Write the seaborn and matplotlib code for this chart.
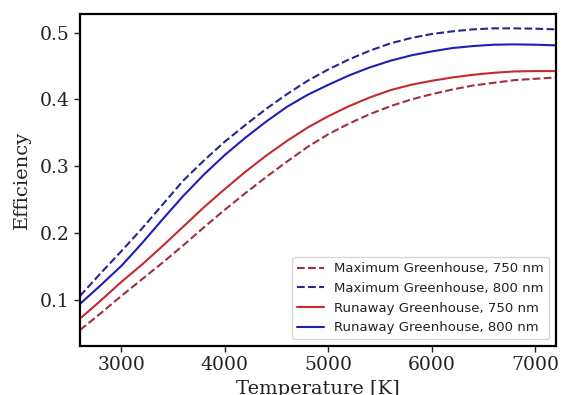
import numpy as np
import pandas as pd
import matplotlib
matplotlib.use("Agg")
import matplotlib.pyplot as plt
import seaborn as sns

temperature = [2600, 2800, 3000, 3200, 3400, 3600, 3800, 4000, 4200, 4400, 4600, 4800,
               5000, 5200, 5400, 5600, 5800, 6000, 6200, 6400, 6600, 6800, 7000, 7200]

max_gh_750 = [0.055, 0.080, 0.106, 0.131, 0.156, 0.182, 0.209, 0.235, 0.260, 0.284, 0.307, 0.329,
              0.348, 0.364, 0.378, 0.390, 0.400, 0.408, 0.415, 0.421, 0.425, 0.429, 0.431, 0.433]
max_gh_800 = [0.106, 0.140, 0.173, 0.207, 0.243, 0.279, 0.309, 0.337, 0.362, 0.386, 0.408, 0.428,
              0.445, 0.460, 0.473, 0.484, 0.492, 0.498, 0.502, 0.505, 0.5065, 0.5065, 0.506, 0.505]
run_gh_750 = [0.072, 0.099, 0.127, 0.153, 0.181, 0.210, 0.239, 0.266, 0.292, 0.316, 0.338, 0.358,
              0.375, 0.390, 0.403, 0.414, 0.422, 0.428, 0.433, 0.437, 0.440, 0.442, 0.4425, 0.4425]
run_gh_800 = [0.094, 0.122, 0.151, 0.185, 0.221, 0.256, 0.288, 0.317, 0.343, 0.367, 0.389, 0.407,
              0.422, 0.436, 0.448, 0.458, 0.466, 0.472, 0.477, 0.480, 0.482, 0.4825, 0.482, 0.481]

series_labels = ["Maximum Greenhouse, 750 nm", "Maximum Greenhouse, 800 nm",
                 "Runaway Greenhouse, 750 nm", "Runaway Greenhouse, 800 nm"]
series_values = [max_gh_750, max_gh_800, run_gh_750, run_gh_800]
series_colors = ["#a03040", "#26268f", "#c42a2e", "#1e1eb8"]
series_styles = ["--", "--", "-", "-"]

x_ticks = [3000, 4000, 5000, 6000, 7000]
y_ticks = [0.1, 0.2, 0.3, 0.4, 0.5]

sns.set_style("ticks")
plt.rcParams["font.family"] = ["DejaVu Serif"]

fig = plt.figure(figsize=(5.69, 3.95), dpi=100)
ax = fig.add_axes([0.1406, 0.124, 0.8364, 0.8406])

for label, vals, col, ls in zip(series_labels, series_values, series_colors, series_styles):
    df = pd.DataFrame({"Temperature": temperature, "Efficiency": vals})
    sns.lineplot(data=df, x="Temperature", y="Efficiency", ax=ax, color=col,
                 linestyle=ls, linewidth=1.5, label=label)

ax.set_xlim(2600, 7200)
ax.set_ylim(0.031, 0.528)
ax.set_xticks(x_ticks)
ax.set_yticks(y_ticks)
ax.set_xticklabels([str(t) for t in x_ticks])
ax.set_yticklabels([f"{v:.1f}" for v in y_ticks])
ax.tick_params(labelsize=13.5, length=4, width=1, colors="#222222", labelcolor="#222222")
ax.set_xlabel("Temperature [K]", fontsize=14, color="#222222", labelpad=4)
ax.set_ylabel("Efficiency", fontsize=14, color="#222222", labelpad=6)
for sp in ax.spines.values():
    sp.set_visible(True)
    sp.set_color("black")
    sp.set_linewidth(1.6)

leg = ax.legend(loc="lower right", prop={"family": "DejaVu Sans", "size": 9.5},
                frameon=True, fancybox=True, framealpha=0.8, borderaxespad=0.5)
leg.get_frame().set_edgecolor("#cccccc")
for t in leg.get_texts():
    t.set_color("#222222")

fig.savefig("out.png", dpi=100)
